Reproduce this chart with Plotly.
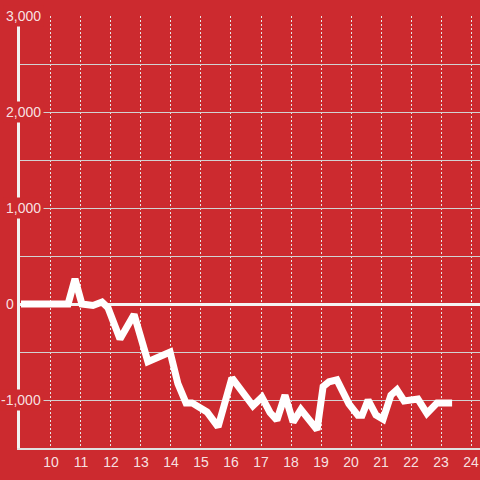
import plotly.graph_objects as go

# Data (x = hour of day, y = value)
hours = [9.0, 10.57, 10.8, 11.03, 11.4, 11.7, 11.9, 12.3, 12.77, 13.23, 13.97,
         14.23, 14.5, 14.7, 15.2, 15.57, 16.03, 16.3, 16.73, 17.03, 17.3, 17.53,
         17.8, 18.07, 18.33, 18.87, 19.07, 19.27, 19.53, 19.93, 20.23, 20.37,
         20.57, 20.83, 21.07, 21.33, 21.53, 21.77, 22.23, 22.53, 22.87, 23.37]
values = [0, 0, 260, 0, -15, 20, -40, -365, -110, -600, -500,
          -830, -1030, -1030, -1125, -1280, -770, -880, -1060, -970, -1130, -1210,
          -950, -1230, -1100, -1310, -860, -810, -790, -1040, -1160, -1160,
          -1000, -1155, -1200, -950, -895, -1010, -990, -1140, -1030, -1030]

x_ticks = list(range(10, 25))
y_label_vals = [3000, 2000, 1000, 0, -1000]
y_label_text = ["3,000", "2,000", "1,000", "0", "-1,000"]

BG = "#cc2a2f"
LABEL = "rgba(255,255,255,0.87)"
FONT = "Liberation Sans, Arial, sans-serif"

fig = go.Figure()
fig.add_trace(go.Scatter(x=hours, y=values, mode="lines",
                         line=dict(color="white", width=7),
                         hoverinfo="skip", showlegend=False))

fig.update_layout(
    width=480, height=480,
    margin=dict(l=20, r=0, t=16, b=32, autoexpand=False),
    paper_bgcolor=BG, plot_bgcolor=BG,
    font=dict(family=FONT, size=14, color=LABEL),
    xaxis=dict(range=[8.967, 24.3], tickmode="array", tickvals=x_ticks,
               ticktext=[str(t) for t in x_ticks], automargin=False,
               showgrid=True, gridcolor="#e6e6e6", gridwidth=1, griddash="2px,2px",
               showline=True, linecolor="#e0e0e0", linewidth=2,
               zeroline=False, ticks="", tickfont=dict(size=14, color=LABEL)),
    yaxis=dict(range=[-1500, 3000], dtick=500, tick0=0, automargin=False,
               showgrid=True, gridcolor="#d2d2d2", gridwidth=1,
               showticklabels=False, ticks="",
               showline=True, linecolor="#f2f2f2", linewidth=3,
               zeroline=True, zerolinecolor="#f4f4f4", zerolinewidth=3),
)

for v, t in zip(y_label_vals, y_label_text):
    right_px = 17 if v == 0 else 44
    fig.add_annotation(x=(right_px - 20) / 460, xref="paper", y=v, yref="y",
                       text=t, showarrow=False, xanchor="right", yanchor="middle",
                       bgcolor=BG if v != 0 else "rgba(0,0,0,0)", borderpad=2,
                       font=dict(family=FONT, size=14, color=LABEL))

fig.write_html("out.html", config={"displayModeBar": False},
               post_script="document.body.style.margin='0';document.body.style.overflow='hidden';")
